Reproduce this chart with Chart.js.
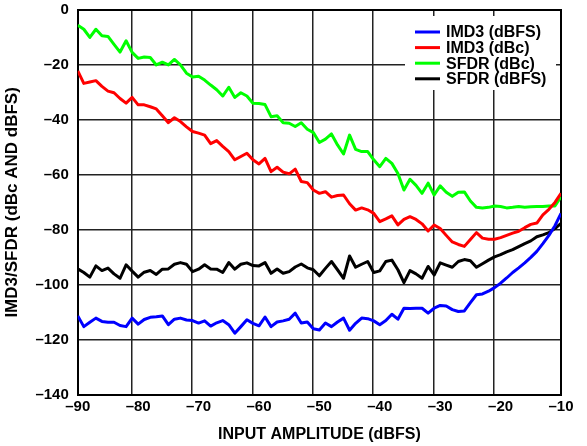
<!DOCTYPE html>
<html>
<head>
<meta charset="utf-8">
<script src="https://cdn.jsdelivr.net/npm/chart.js@4/dist/chart.umd.min.js"></script>
<style>
  html, body { margin: 0; padding: 0; background: #fff; }
</style>
</head>
<body>
<canvas id="chart" width="587" height="446"></canvas>
<script>
// input amplitude, dBFS (1 dB steps)
const inputAmplitude = [
  -90, -89, -88, -87, -86, -85, -84, -83, -82, -81,
  -80, -79, -78, -77, -76, -75, -74, -73, -72, -71,
  -70, -69, -68, -67, -66, -65, -64, -63, -62, -61,
  -60, -59, -58, -57, -56, -55, -54, -53, -52, -51,
  -50, -49, -48, -47, -46, -45, -44, -43, -42, -41,
  -40, -39, -38, -37, -36, -35, -34, -33, -32, -31,
  -30, -29, -28, -27, -26, -25, -24, -23, -22, -21,
  -20, -19, -18, -17, -16, -15, -14, -13, -12, -11,
  -10
];

const imd3Dbfs = [
  -111.3, -115.2, -113.6, -112.1, -113.3, -113.6, -113.6, -114.8, -115.2, -112.1,
  -114.3, -112.6, -111.8, -111.6, -111.3, -114.5, -112.5, -112.1, -112.8, -113,
  -113.9, -113.1, -115, -113.8, -113, -114.5, -117.6, -115.2, -112.7, -114,
  -114.9, -111.7, -115.2, -113.5, -113.1, -112.5, -110.3, -113.9, -113.5, -116,
  -116.4, -113.9, -115.2, -113.5, -112.1, -116.5, -114, -112.1, -112.3, -113.1,
  -114.5, -113, -110.7, -112.5, -108.5, -108.6, -108.5, -108.5, -110.3, -108.5,
  -107.5, -107.7, -109, -109.7, -109.5, -106.5, -103.6, -103.3, -102.3, -101,
  -99.4, -97.5, -95.5, -93.8, -92, -90, -87.8, -85, -82, -78.5,
  -74
];

const imd3Dbc = [
  -22.2, -26.7, -26.2, -25.7, -27.8, -29.5, -30.1, -32.2, -33.9, -31.8,
  -34.5, -34.5, -35.2, -36, -38.5, -41, -39.2, -40.6, -42.5, -44.2,
  -44.8, -45.5, -48.6, -47.5, -49.6, -51.5, -54.5, -53.3, -52.1, -54.5,
  -56, -54, -58.8, -57.2, -59, -59.6, -57.9, -62.4, -62.8, -65.5,
  -66.7, -66.1, -68.1, -67.5, -67.3, -70.5, -72.8, -72, -72.7, -74,
  -77, -76, -74.9, -78.2, -76.2, -75.2, -76.2, -77.8, -80.4, -78.2,
  -79.5, -82, -84.4, -85.3, -86, -83.5, -81, -83, -83.4, -83.4,
  -82.8, -82, -81.2, -80.5, -79.2, -78, -77.5, -74.5, -72.5, -70,
  -66.7
];

const sfdrDbc = [
  -5.5, -7, -10, -7, -9.4, -9.6, -12.5, -15.3, -11.2, -15.4,
  -17.6, -17.1, -17.3, -20, -19, -20, -18, -20, -23, -24.4,
  -24.1, -25.5, -27.3, -29, -31.3, -28.1, -31.8, -30.1, -31.3, -33.9,
  -34, -34.4, -38.8, -38.5, -41, -41.2, -42.4, -41, -43.4, -44.6,
  -48.2, -47, -45.1, -49.1, -52.4, -45.5, -50.7, -51.5, -51.5, -54.5,
  -57, -54, -55.8, -59.5, -65.5, -61.6, -63.8, -66.7, -63, -67.3,
  -64, -66.3, -67.8, -66.3, -66.2, -69.5, -71.8, -72, -71.8, -71.3,
  -71.5, -72, -71.8, -71.5, -71.8, -71.6, -71.5, -71.5, -71.3, -71.3,
  -68
];

const sfdrDbfs = [
  -94.2, -95.5, -97.2, -93.1, -94.8, -93.9, -96, -97.6, -92.7, -95,
  -97.2, -95.4, -94.8, -96.2, -94.3, -94.2, -92.5, -91.9, -92.5, -95.2,
  -94.3, -92.7, -94.2, -94.3, -95.5, -91.9, -94.3, -92.5, -92, -93,
  -93.1, -91.9, -95.8, -94.2, -95.8, -95.2, -93.5, -92.4, -93.8, -94.5,
  -96.7, -94, -91.5, -94.5, -97.6, -89.5, -93.6, -92.5, -91.5, -95.5,
  -94.9, -91.5, -91, -94.5, -99.2, -94.8, -96, -97.6, -93.3, -96.4,
  -92, -92.8, -93.6, -91.5, -90.8, -91.2, -93.6, -92.3, -91, -89.8,
  -89, -88, -87.2, -86.1, -85, -84, -82.5, -81.8, -81, -79.5,
  -77.6
];

const seriesNames = ['IMD3 (dBFS)', 'IMD3 (dBc)', 'SFDR (dBc)', 'SFDR (dBFS)'];
const seriesColors = ['#0000ff', '#ff0000', '#00ff00', '#000000'];
const xTicks = [-90, -80, -70, -60, -50, -40, -30, -20, -10];
const yTicks = [0, -20, -40, -60, -80, -100, -120, -140];

const FONT = '"Liberation Sans", Arial, Helvetica, sans-serif';
const GRID_SHIFT = -1.1; // vertical grid lines sit a little left of the labels in the original

const fmt = v => (v === 0 ? '0' : '\u2013' + Math.abs(v));
const toPoints = ys => inputAmplitude.map((x, i) => ({ x, y: ys[i] }));

const legendBox = {
  id: 'legendBox',
  afterDraw(chart) {
    const { ctx, chartArea } = chart;
    const x0 = chartArea.right - 156;
    const y0 = chartArea.top + 6;
    ctx.save();
    ctx.fillStyle = '#fff';
    ctx.fillRect(x0, y0, 151, 74);
    ctx.font = 'bold 16px ' + FONT;
    ctx.textBaseline = 'middle';
    chart.data.datasets.forEach((ds, i) => {
      const y = y0 + 16 + i * 15.6;
      ctx.strokeStyle = ds.borderColor;
      ctx.lineWidth = 3;
      ctx.beginPath();
      ctx.moveTo(x0 + 10, y);
      ctx.lineTo(x0 + 35, y);
      ctx.stroke();
      ctx.fillStyle = '#000';
      ctx.fillText(ds.label, x0 + 41, y + 1);
    });
    ctx.restore();
  }
};

const series = [imd3Dbfs, imd3Dbc, sfdrDbc, sfdrDbfs];

new Chart(document.getElementById('chart'), {
  type: 'line',
  data: {
    datasets: series.map((ys, i) => ({
      label: seriesNames[i],
      data: toPoints(ys),
      borderColor: seriesColors[i],
      backgroundColor: seriesColors[i],
      borderWidth: 3,
      pointRadius: 0,
      tension: 0,
      borderJoinStyle: 'round',
      xAxisID: 'x',
      yAxisID: 'y'
    }))
  },
  options: {
    responsive: false,
    animation: false,
    layout: { padding: { left: 2, right: 26, top: 10, bottom: 2 } },
    plugins: {
      legend: { display: false },
      tooltip: { enabled: false }
    },
    scales: {
      x: {
        type: 'linear',
        position: 'bottom',
        min: -90,
        max: -10,
        afterBuildTicks: axis => { axis.ticks = xTicks.map(v => ({ value: v })); },
        grid: { display: false, drawTicks: false },
        border: { display: true, color: '#000', width: 2 },
        ticks: {
          color: '#000',
          font: { family: FONT, size: 15, weight: 'bold' },
          padding: 3,
          maxRotation: 0,
          callback: v => fmt(v)
        },
        title: {
          display: true,
          text: 'INPUT AMPLITUDE (dBFS)',
          color: '#000',
          font: { family: FONT, size: 16, weight: 'bold' },
          padding: { top: 6, bottom: 0 }
        }
      },
      xGrid: {
        type: 'linear',
        position: 'top',
        min: -90,
        max: -10,
        afterBuildTicks: axis => {
          axis.ticks = xTicks.slice(1, -1).map(v => ({ value: v + GRID_SHIFT }));
        },
        grid: { color: '#222', lineWidth: 1.5, drawTicks: false },
        border: { display: true, color: '#000', width: 2 },
        ticks: { display: false }
      },
      y: {
        type: 'linear',
        min: -140,
        max: 0,
        afterBuildTicks: axis => { axis.ticks = yTicks.map(v => ({ value: v })); },
        // let the top and bottom labels hang outside the plot like the original
        afterFit: axis => { axis.paddingTop = 0; axis.paddingBottom = 0; },
        grid: { color: '#222', lineWidth: 1.5, drawTicks: false },
        border: { display: true, color: '#000', width: 2 },
        ticks: {
          color: '#000',
          font: { family: FONT, size: 15, weight: 'bold' },
          padding: 9,
          callback: v => fmt(v)
        },
        title: {
          display: true,
          text: 'IMD3/SFDR (dBc AND dBFS)',
          color: '#000',
          font: { family: FONT, size: 17, weight: 'bold' },
          padding: { top: 0, bottom: 4 }
        }
      },
      yRight: {
        type: 'linear',
        position: 'right',
        min: -140,
        max: 0,
        afterFit: axis => { axis.paddingTop = 0; axis.paddingBottom = 0; },
        grid: { display: false, drawTicks: false },
        border: { display: true, color: '#000', width: 2 },
        ticks: { display: false }
      }
    }
  },
  plugins: [legendBox]
});
</script>
</body>
</html>
